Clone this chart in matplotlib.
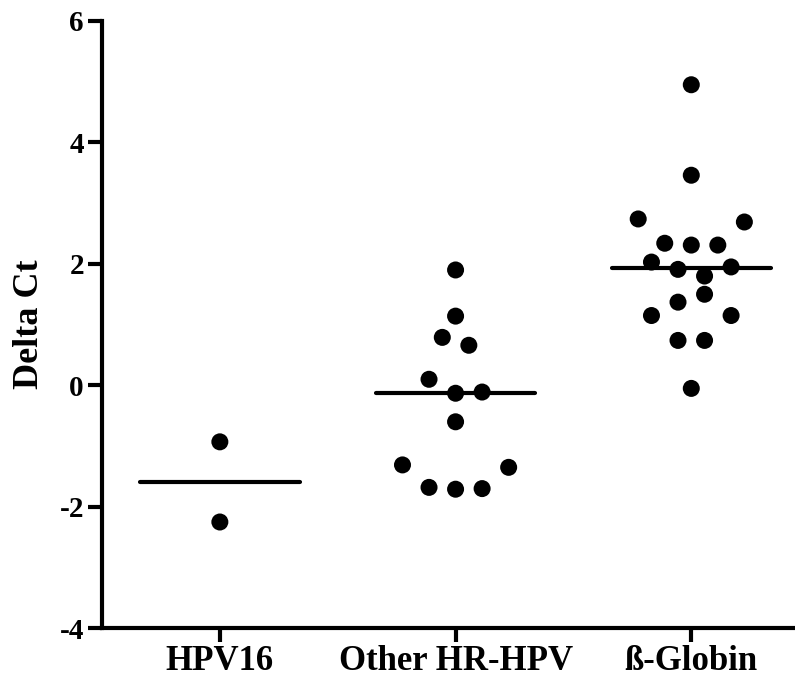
import numpy as np
import matplotlib
matplotlib.use("Agg")
import matplotlib.pyplot as plt

plt.rcParams['font.family'] = ['Liberation Serif', 'DejaVu Serif']
plt.rcParams['font.weight'] = 'bold'
plt.rcParams['axes.unicode_minus'] = False

# ---- data ----
categories = ["HPV16", "Other HR-HPV", "ß-Globin"]
hpv16 = [-0.93, -2.25]
other_hr = [1.90, 1.14, 0.79, 0.66, 0.10, -0.13, -0.11, -0.60,
            -1.31, -1.35, -1.68, -1.71, -1.70]
globin = [4.95, 3.46, 2.74, 2.69, 2.34, 2.31, 2.31, 2.03, 1.91, 1.95,
          1.80, 1.50, 1.37, 1.15, 1.15, 0.74, 0.74, -0.05]
y_ticks = [-4, -2, 0, 2, 4, 6]
y_label = "Delta Ct"

# swarm layout (horizontal slot index of each point, as drawn by the original software)
hpv16_slots = [0, 0]
other_slots = [0, 0, -1, 1, -2, 0, 2, 0, -4, 4, -2, 0, 2]
globin_slots = [0, 0, -4, 4, -2, 0, 2, -3, -1, 3, 1, 1, -1, -3, 3, -1, 1, 0]

groups = [hpv16, other_hr, globin]
slots = [hpv16_slots, other_slots, globin_slots]

slot_w = 0.0563
half_line = 0.338

fig = plt.figure(figsize=(7.95, 6.79), dpi=100)
ax = fig.add_axes([0.1283, 0.0747, 0.8717, 0.8944])

for i, (vals, sl) in enumerate(zip(groups, slots)):
    xs = i + np.array(sl) * slot_w
    ax.scatter(xs, vals, s=150, color='black', edgecolors='none', zorder=3)
    med = np.median(vals)
    ax.plot([i - half_line, i + half_line], [med, med], color='black',
            lw=3, solid_capstyle='round', zorder=4)

ax.set_xlim(-0.5, 2.44)
ax.set_ylim(-4, 6)
ax.set_yticks(y_ticks)
ax.set_yticklabels([str(t) for t in y_ticks], fontsize=21, fontweight='bold')
ax.set_xticks(range(len(categories)))
ax.set_xticklabels(categories, fontsize=25, fontweight='bold')
ax.set_ylabel(y_label, fontsize=26, fontweight='bold', labelpad=10)

for s in ['top', 'right']:
    ax.spines[s].set_visible(False)
for s in ['left', 'bottom']:
    ax.spines[s].set_linewidth(3)
ax.tick_params(axis='both', width=3, length=10, color='black')
ax.tick_params(axis='y', pad=3)
ax.tick_params(axis='x', pad=2)

fig.savefig("out.png", dpi=100)
